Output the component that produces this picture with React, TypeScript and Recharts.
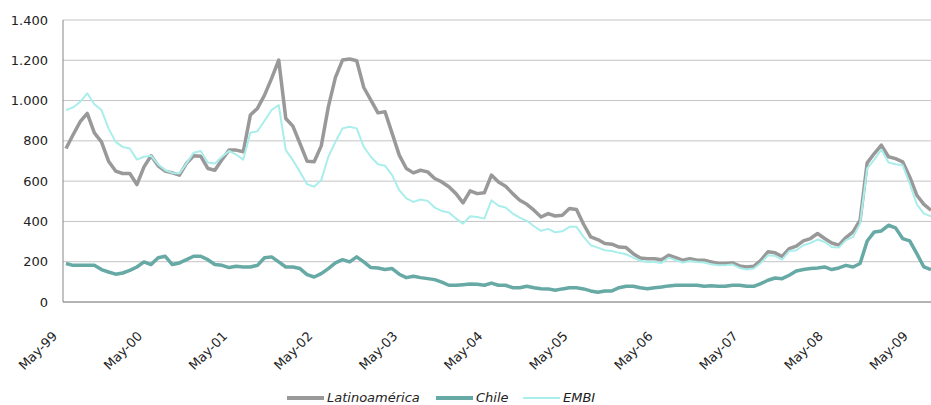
import React from "react";
import { CartesianGrid, Line, LineChart, XAxis, YAxis } from "recharts";

// monthly spreads (bps), May-99 .. Jul-09
const START_YEAR = 1999;
const START_MONTH = 4; // May
const MONTH_NAMES = ["Jan", "Feb", "Mar", "Apr", "May", "Jun", "Jul", "Aug", "Sep", "Oct", "Nov", "Dec"];

const latinoamerica = [
  762, 830, 895, 936, 840, 795, 699, 650, 638, 638, 583, 671, 726, 676, 650, 641, 630, 688, 726, 724,
  663, 654, 707, 754, 754, 746, 928, 961, 1027, 1110, 1201, 911, 873, 787, 699, 696, 775, 969, 1115, 1201,
  1206, 1198, 1065, 1002, 939, 944, 837, 729, 663, 641, 654, 646, 613, 596, 572, 538, 492, 552, 538, 542,
  630, 596, 575, 538, 505, 485, 456, 422, 439, 427, 431, 464, 459, 386, 323, 310, 290, 287, 273, 270,
  240, 218, 215, 215, 210, 232, 220, 207, 215, 207, 207, 199, 191, 191, 194, 179, 174, 177, 207, 249,
  244, 226, 265, 277, 303, 315, 340, 315, 293, 282, 320, 348, 406, 691, 737, 779, 721, 712, 696, 621,
  530, 485, 456,
];

const chile = [
  191, 182, 182, 182, 182, 161, 149, 138, 144, 157, 174, 199, 186, 220, 227, 186, 194, 210, 227, 227,
  210, 186, 182, 171, 177, 174, 174, 182, 220, 224, 199, 174, 174, 166, 136, 124, 141, 166, 194, 210,
  199, 224, 199, 171, 169, 161, 166, 138, 121, 128, 121, 116, 111, 99, 83, 83, 86, 89, 88, 83,
  94, 83, 83, 71, 71, 78, 71, 66, 65, 58, 65, 71, 71, 65, 55, 48, 55, 55, 71, 78,
  78, 71, 66, 71, 75, 80, 83, 83, 83, 83, 78, 81, 78, 78, 83, 83, 78, 78, 91, 108,
  119, 116, 133, 154, 161, 166, 169, 174, 161, 169, 182, 174, 191, 303, 348, 353, 381, 368, 315, 303,
  240, 174, 161,
];

const embi = [
  953, 966, 994, 1036, 982, 953, 862, 795, 770, 762, 707, 721, 726, 683, 654, 641, 638, 688, 741, 750,
  693, 688, 721, 750, 732, 707, 840, 848, 900, 953, 978, 754, 704, 646, 585, 572, 605, 721, 795, 862,
  870, 862, 770, 721, 684, 676, 630, 555, 514, 497, 509, 502, 469, 452, 444, 414, 389, 426, 422, 414,
  505, 478, 469, 439, 419, 403, 376, 353, 363, 346, 351, 373, 373, 323, 282, 270, 257, 253, 244, 237,
  220, 205, 199, 199, 194, 220, 207, 196, 204, 199, 196, 187, 182, 182, 186, 169, 161, 166, 194, 232,
  229, 210, 253, 257, 282, 293, 310, 298, 273, 270, 307, 323, 389, 663, 707, 757, 693, 684, 679, 588,
  485, 439, 426,
];

const yTicks = [0, 200, 400, 600, 800, 1000, 1200, 1400];

const monthLabel = (i: number) => {
  const m = (START_MONTH + i) % 12;
  const y = START_YEAR + Math.floor((START_MONTH + i) / 12);
  return `${MONTH_NAMES[m]}-${String(y % 100).padStart(2, "0")}`;
};

const data = latinoamerica.map((v, i) => ({
  month: monthLabel(i),
  latinoamerica: v,
  chile: chile[i],
  embi: embi[i],
}));

const FONT = "'DejaVu Sans', sans-serif";

const formatThousands = (v: number) =>
  v >= 1000 ? `${Math.floor(v / 1000)}.${String(v % 1000).padStart(3, "0")}` : String(v);

const MonthTick = (props: any) => {
  const { x, y, payload } = props;
  return (
    <g transform={`translate(${x - 8},${y + 33})`}>
      <text textAnchor="end" transform="rotate(-45)" fontSize={13} fontFamily={FONT} fill="#222">
        {payload.value}
      </text>
    </g>
  );
};

const legendItems = [
  { name: "Latinoamérica", color: "#999999", width: 4, left: 287 },
  { name: "Chile", color: "#66a9a5", width: 4, left: 436 },
  { name: "EMBI", color: "#a9eeeb", width: 2, left: 523 },
];

export default function App() {
  return (
    <div style={{ position: "absolute", left: 0, top: 0, width: 931, height: 405, background: "#fff" }}>
      <LineChart width={931} height={405} data={data} margin={{ top: 20, right: 0, bottom: 0, left: 0 }}>
        <CartesianGrid vertical={false} stroke="#c4c4c4" />
        <XAxis
          dataKey="month"
          interval={11}
          tickLine={false}
          tickSize={0}
          height={103}
          padding={{ left: 3, right: 0 }}
          axisLine={{ stroke: "#868686" }}
          tick={<MonthTick />}
        />
        <YAxis
          domain={[0, 1400]}
          ticks={yTicks}
          width={63}
          tickLine={false}
          tickSize={0}
          tickMargin={15}
          axisLine={{ stroke: "#868686" }}
          tickFormatter={formatThousands}
          tick={{ fontSize: 13, fontFamily: FONT, fill: "#222" }}
        />
        <Line
          type="linear"
          dataKey="latinoamerica"
          stroke="#999999"
          strokeWidth={3.5}
          dot={false}
          strokeLinejoin="round"
          isAnimationActive={false}
        />
        <Line
          type="linear"
          dataKey="chile"
          stroke="#66a9a5"
          strokeWidth={3.5}
          dot={false}
          strokeLinejoin="round"
          isAnimationActive={false}
        />
        <Line
          type="linear"
          dataKey="embi"
          stroke="#a9eeeb"
          strokeWidth={2}
          dot={false}
          strokeLinejoin="round"
          isAnimationActive={false}
        />
      </LineChart>
      {legendItems.map((item) => (
        <div
          key={item.name}
          style={{
            position: "absolute",
            left: item.left,
            top: 390,
            display: "flex",
            alignItems: "center",
            fontFamily: FONT,
            fontStyle: "italic",
            fontSize: 13,
            color: "#222",
            whiteSpace: "nowrap",
          }}
        >
          <span style={{ display: "inline-block", width: 37, height: item.width, background: item.color, marginRight: 3 }} />
          <span>{item.name}</span>
        </div>
      ))}
    </div>
  );
}
